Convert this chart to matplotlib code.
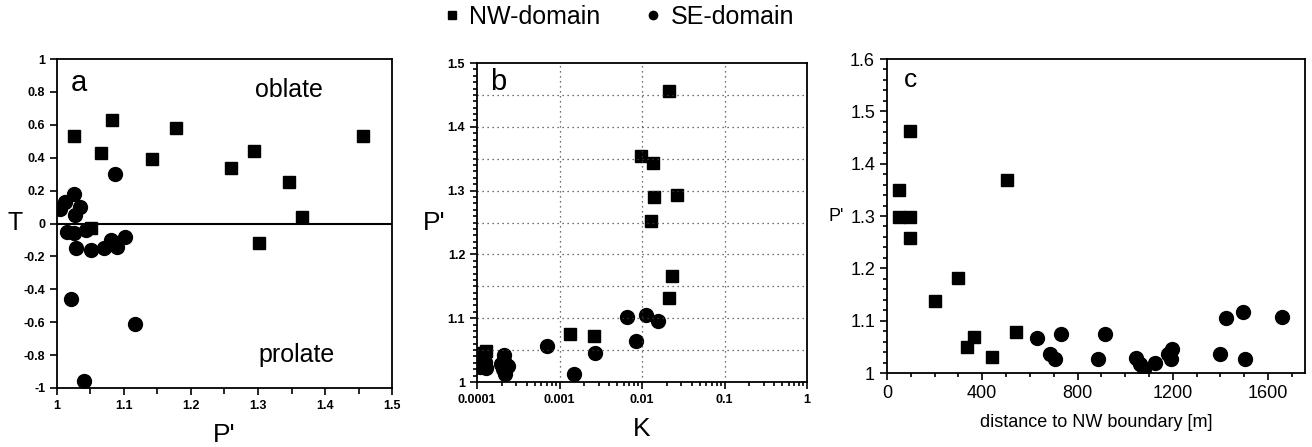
import matplotlib.pyplot as plt
import numpy as np
from matplotlib.lines import Line2D
from matplotlib.ticker import MultipleLocator, LogLocator, NullFormatter, FixedFormatter, FixedLocator

plt.rcParams["font.family"] = ["Liberation Sans", "DejaVu Sans"]

# panel a: T vs P'
a_nw_p = [1.026, 1.082, 1.066, 1.177, 1.142, 1.260, 1.294, 1.347, 1.366, 1.301, 1.457, 1.051]
a_nw_t = [0.53, 0.63, 0.43, 0.58, 0.39, 0.34, 0.44, 0.25, 0.04, -0.12, 0.53, -0.03]
a_se_p = [1.004, 1.012, 1.026, 1.027, 1.034, 1.015, 1.026, 1.029, 1.044, 1.051,
          1.070, 1.081, 1.090, 1.101, 1.087, 1.021, 1.116, 1.041]
a_se_t = [0.09, 0.13, 0.18, 0.05, 0.10, -0.05, -0.06, -0.15, -0.04, -0.16,
          -0.15, -0.10, -0.14, -0.08, 0.30, -0.46, -0.61, -0.96]
a_xticks = [1, 1.1, 1.2, 1.3, 1.4, 1.5]
a_yticks = [-1, -0.8, -0.6, -0.4, -0.2, 0, 0.2, 0.4, 0.6, 0.8, 1]

# panel b: P' vs K
b_nw_k = [0.021, 0.0097, 0.0135, 0.0138, 0.0268, 0.0129, 0.0231, 0.021, 0.00133, 0.00264, 0.00011, 0.00013]
b_nw_p = [1.456, 1.354, 1.344, 1.290, 1.293, 1.252, 1.166, 1.132, 1.076, 1.072, 1.046, 1.048]
b_se_k = [0.00658, 0.0113, 0.0156, 0.00853, 0.000705, 0.00267, 0.0015,
          0.000096, 0.000105, 0.00011, 0.000125, 0.00013,
          0.000195, 0.00021, 0.000205, 0.00022, 0.00024, 0.000215]
b_se_p = [1.102, 1.105, 1.096, 1.065, 1.057, 1.046, 1.013,
          1.027, 1.038, 1.024, 1.032, 1.022,
          1.028, 1.043, 1.020, 1.012, 1.025, 1.033]
b_xticks = [1e-4, 1e-3, 1e-2, 1e-1, 1]
b_xlabels = ["0.0001", "0.001", "0.01", "0.1", "1"]
b_yticks = [1, 1.1, 1.2, 1.3, 1.4, 1.5]

# panel c: P' vs distance
c_nw_d = [50, 50, 95, 98, 98, 300, 202, 336, 365, 440, 504, 543]
c_nw_p = [1.350, 1.299, 1.462, 1.299, 1.258, 1.182, 1.138, 1.049, 1.068, 1.030, 1.369, 1.078]
c_se_d = [631, 686, 707, 732, 886, 914, 1047, 1064, 1078, 1124, 1180, 1191, 1197,
          1397, 1425, 1495, 1505, 1659]
c_se_p = [1.066, 1.037, 1.027, 1.075, 1.027, 1.075, 1.029, 1.018, 1.008, 1.019, 1.037, 1.027, 1.046,
          1.037, 1.106, 1.116, 1.027, 1.107]
c_xticks = [0, 400, 800, 1200, 1600]
c_yticks = [1, 1.1, 1.2, 1.3, 1.4, 1.5, 1.6]


def fmt(v):
    return ("%g" % v)


fig = plt.figure(figsize=(13.12, 4.47), dpi=100)
ax_a = fig.add_axes([0.0434, 0.132, 0.2554, 0.736])
ax_b = fig.add_axes([0.3636, 0.1454, 0.2515, 0.7136])
ax_c = fig.add_axes([0.676, 0.1655, 0.3187, 0.7025])

sq = dict(marker="s", ms=9, color="black", ls="none")
ci = dict(marker="o", ms=10, color="black", ls="none")
tick_font = dict(fontsize=9, fontweight="bold")

# a
ax_a.plot(a_nw_p, a_nw_t, **sq)
ax_a.plot(a_se_p, a_se_t, **ci)
ax_a.axhline(0, color="black", lw=1.5)
ax_a.set_xticks(a_xticks)
ax_a.set_xticklabels([fmt(v) for v in a_xticks], **tick_font)
ax_a.set_yticks(a_yticks)
ax_a.set_yticklabels([fmt(v) for v in a_yticks], **tick_font)
ax_a.xaxis.set_minor_locator(MultipleLocator(0.05))
ax_a.set_xlim(1, 1.5)
ax_a.set_ylim(-1, 1)
ax_a.tick_params(which="both", direction="out", length=5, width=1.2)
ax_a.tick_params(which="minor", length=4)
ax_a.set_xlabel("P'", fontsize=19, labelpad=8)
ax_a.set_ylabel("T", fontsize=18, rotation=0, labelpad=6, va="center")
ax_a.text(0.04, 0.97, "a", transform=ax_a.transAxes, fontsize=21, va="top")
ax_a.text(1.346, 0.81, "oblate", fontsize=18, ha="center", va="center")
ax_a.text(1.358, -0.80, "prolate", fontsize=18, ha="center", va="center")

# b
ax_b.plot(b_nw_k, b_nw_p, **sq)
ax_b.plot(b_se_k, b_se_p, **ci)
ax_b.set_xscale("log")
ax_b.xaxis.set_major_locator(FixedLocator(b_xticks))
ax_b.xaxis.set_major_formatter(FixedFormatter(b_xlabels))
ax_b.xaxis.set_minor_locator(LogLocator(base=10, subs=np.arange(2, 10)))
ax_b.xaxis.set_minor_formatter(NullFormatter())
ax_b.set_yticks(b_yticks)
ax_b.set_yticklabels([fmt(v) for v in b_yticks], **tick_font)
ax_b.yaxis.set_minor_locator(MultipleLocator(0.01))
for lbl in ax_b.get_xticklabels():
    lbl.set_fontsize(9)
    lbl.set_fontweight("bold")
for k in b_xticks[1:-1]:
    ax_b.axvline(k, color="0.25", lw=0.9, ls=(0, (1, 3)))
for p in np.arange(1.05, 1.49, 0.05):
    ax_b.axhline(p, color="0.25", lw=0.9, ls=(0, (1, 3)))
ax_b.set_xlim(1e-4, 1)
ax_b.set_ylim(1, 1.5)
ax_b.tick_params(which="both", direction="out", length=5, width=1.2)
ax_b.tick_params(which="minor", length=3)
ax_b.set_xlabel("K", fontsize=19, labelpad=8)
ax_b.set_ylabel("P'", fontsize=19, rotation=0, labelpad=10, va="center")
ax_b.text(0.04, 0.985, "b", transform=ax_b.transAxes, fontsize=21, va="top")

# c
ax_c.plot(c_nw_d, c_nw_p, **sq)
ax_c.plot(c_se_d, c_se_p, **ci)
ax_c.set_yticks(c_yticks)
ax_c.set_yticklabels([fmt(v) for v in c_yticks], fontsize=13)
ax_c.set_xticks(c_xticks)
ax_c.set_xticklabels([fmt(v) for v in c_xticks], fontsize=13)
ax_c.xaxis.set_minor_locator(MultipleLocator(100))
ax_c.yaxis.set_minor_locator(MultipleLocator(0.02))
ax_c.set_xlim(0, 1755)
ax_c.set_ylim(1, 1.6)
ax_c.tick_params(which="both", direction="out", length=5, width=1.2)
ax_c.tick_params(which="minor", length=3)
ax_c.set_xlabel("distance to NW boundary [m]", fontsize=13, labelpad=9)
ax_c.set_ylabel("P'", fontsize=13, rotation=0, labelpad=10, va="center")
ax_c.text(0.04, 0.97, "c", transform=ax_c.transAxes, fontsize=19, va="top")

for ax in (ax_a, ax_b, ax_c):
    for s in ax.spines.values():
        s.set_linewidth(1.3)

handles = [Line2D([], [], marker="s", ms=6, color="black", ls="none"),
           Line2D([], [], marker="o", ms=6, color="black", ls="none")]
fig.legend(handles, ["NW-domain", "SE-domain"], loc="center", bbox_to_anchor=(0.47, 0.962),
           ncol=2, frameon=False, fontsize=18, handletextpad=0.2, handlelength=1.0,
           columnspacing=1.6)

fig.savefig("out.png", dpi=100)
